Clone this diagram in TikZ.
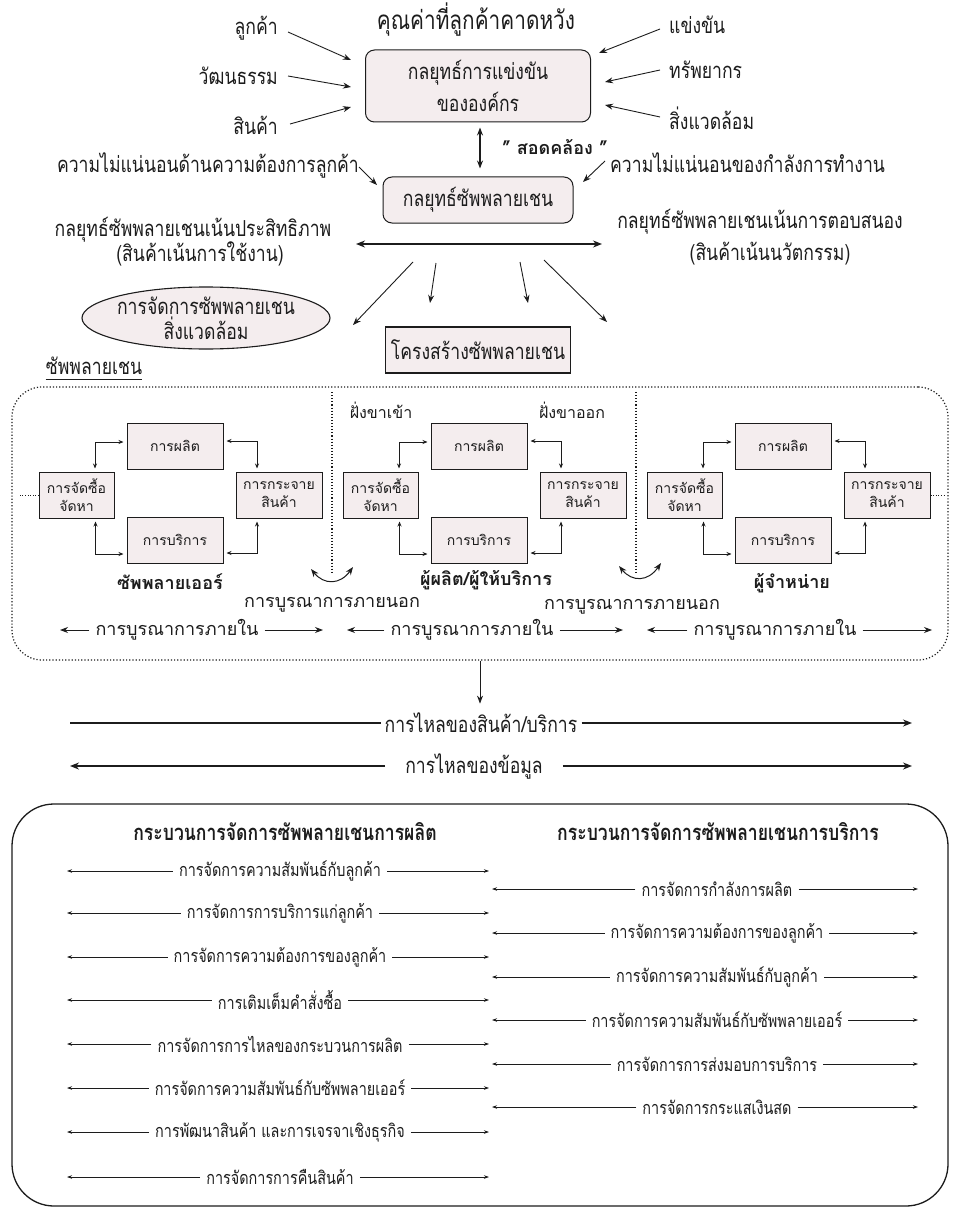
\documentclass[tikz,border=0pt]{standalone}
\usepackage{fontspec}
\setmainfont[Script=Thai]{Loma}
\newfontfamily\condf[Script=Thai,FakeStretch=0.8]{Loma}
\usetikzlibrary{arrows.meta,calc,shapes.geometric}
\definecolor{boxfill}{RGB}{244,237,238}
\definecolor{inkc}{RGB}{28,28,28}
\newcommand\fsTitle{\condf\fontsize{26}{30}\selectfont}
\newcommand\fsLabel{\condf\fontsize{22}{26}\selectfont}
\newcommand\fsLoop{\fontsize{18}{22}\selectfont}
\newcommand\fsSmall{\fontsize{14}{18}\selectfont}
\newcommand\fsList{\condf\fontsize{18}{21}\selectfont}
\begin{document}
\begin{tikzpicture}[x=1pt,y=-1pt,
  every node/.style={inner sep=0pt, text=inkc},
  lbl/.style={font=\fsLabel},
  loop/.style={font=\fsLoop},
  bld/.style={font=\fsLoop\bfseries},
  hdr/.style={font=\condf\fontsize{22}{26}\selectfont\bfseries},
  arr/.style={draw=inkc, line width=0.9pt, -{Stealth[length=8pt,width=6pt]}},
  darr/.style={draw=inkc, line width=0.9pt, {Stealth[length=8pt,width=6pt]}-{Stealth[length=8pt,width=6pt]}},
  thick arr/.style={draw=inkc, line width=1.8pt, {Stealth[length=9pt,width=7pt]}-{Stealth[length=9pt,width=7pt]}},
  sarr/.style={draw=inkc, line width=0.8pt, {Stealth[length=5pt,width=4pt]}-{Stealth[length=5pt,width=4pt]}},
  rbox/.style={draw=inkc, line width=1pt, rounded corners=9pt, fill=boxfill},
  cbox/.style={draw=inkc, line width=1pt, fill=boxfill, align=center, font=\fsSmall},
  flowline/.style={draw=inkc, line width=1.6pt},
  flowarr/.style={draw=inkc, line width=1.6pt, -{Stealth[length=9pt,width=7pt]}},
  lst/.style={font=\fsList, inner xsep=6pt},
  larr/.style={draw=inkc, line width=0.7pt, -{Stealth[length=5pt,width=3.5pt]}},
  divider/.style={draw=inkc, dotted, line width=1.1pt}
]
\useasboundingbox (0,0) rectangle (953,1209);

% ---------- competitive strategy ----------
\node[font=\fsTitle] (title) at (476,20) {คุณค่าที่ลูกค้าคาดหวัง};
\node[rbox, minimum width=225pt, minimum height=72pt] (cs) at (478,86) {};
\node[lbl, align=center] (cst) at (cs.center) {กลยุทธ์การแข่งขัน\\[6pt]ขององค์กร};

\node[lbl, anchor=east] (f1) at (278,28) {ลูกค้า};
\node[lbl, anchor=east] (f2) at (278,76) {วัฒนธรรม};
\node[lbl, anchor=east] (f3) at (278,125) {สินค้า};
\node[lbl, anchor=west] (g1) at (669,25) {แข่งขัน};
\node[lbl, anchor=west] (g2) at (669,70) {ทรัพยากร};
\node[lbl, anchor=west] (g3) at (669,118) {สิ่งแวดล้อม};

\coordinate (f1t) at (351,60);
\coordinate (f2t) at (351,87);
\coordinate (f3t) at (351,107);
\coordinate (g1t) at (599,53);
\coordinate (g2t) at (605,82);
\coordinate (g3t) at (605,105);
\draw[arr] ([xshift=10pt,yshift=-4pt]f1.east) -- (f1t);
\draw[arr] ([xshift=10pt]f2.east) -- (f2t);
\draw[arr] ([xshift=12pt,yshift=1pt]f3.east) -- (f3t);
\draw[arr] ([xshift=-9pt,yshift=-4pt]g1.west) -- (g1t);
\draw[arr] ([xshift=-9pt]g2.west) -- (g2t);
\draw[arr] ([xshift=-9pt,yshift=1pt]g3.west) -- (g3t);

% ---------- supply chain strategy ----------
\node[rbox, minimum width=190pt, minimum height=46pt, font=\fsLabel] (scs) at (478,200) {กลยุทธ์ซัพพลายเชน};
\draw[darr, line width=1.2pt, shorten <=5pt, shorten >=8pt] (cs.south -| 480,0) -- (scs.north -| 480,0);
\node[bld] (fit) at (555,147) {" สอดคล้อง "};

\node[lbl, anchor=east] (u1) at (359,165) {ความไม่แน่นอนด้านความต้องการลูกค้า};
\node[lbl, anchor=west] (u2) at (610,163) {ความไม่แน่นอนของกำลังการทำงาน};
\coordinate (u1t) at (377,185);
\coordinate (u2t) at (583,182);
\draw[arr] ([yshift=-2pt]u1.east) -- (u1t);
\draw[arr] ([xshift=-5pt,yshift=2pt]u2.west) -- (u2t);

\node[lbl] (eff) at (193,230) {กลยุทธ์ซัพพลายเชนเน้นประสิทธิภาพ};
\node[lbl] (effp) at (200,254) {(สินค้าเน้นการใช้งาน)};
\node[lbl] (rsp) at (760,222) {กลยุทธ์ซัพพลายเชนเน้นการตอบสนอง};
\node[lbl] (rspp) at (770,254) {(สินค้าเน้นนวัตกรรม)};
\coordinate (sp0) at (356,244);
\coordinate (sp1) at (602,244);
\draw[thick arr] (sp0) -- (sp1);

\node[draw=inkc, line width=1.1pt, ellipse, fill=boxfill, minimum width=248pt, minimum height=62pt] (env) at (206,318) {};
\node[lbl, align=center] (envt) at (env.center) {การจัดการซัพพลายเชน\\[-1pt]สิ่งแวดล้อม};
\node[draw=inkc, line width=1.4pt, fill=boxfill, minimum width=185pt, minimum height=46pt, font=\fsLabel] (str) at (478,350) {โครงสร้างซัพพลายเชน};

\coordinate (b1s) at (413,262); \coordinate (b1e) at (353,325);
\coordinate (b2s) at (436,263); \coordinate (b2e) at (430,303);
\coordinate (b3s) at (520,262); \coordinate (b3e) at (528,303);
\coordinate (b4s) at (544,260); \coordinate (b4e) at (607,322);
\draw[arr] (b1s) -- (b1e);
\draw[arr] (b2s) -- (b2e);
\draw[arr] (b3s) -- (b3e);
\draw[arr] (b4s) -- (b4e);

% ---------- supply chain ----------
\node[lbl] (scl) at (94,366) {ซัพพลายเชน};
\draw[inkc, line width=1pt] ([yshift=-4pt]scl.south west) -- ([yshift=-4pt]scl.south east);

\node[draw=inkc, dotted, line width=1.2pt, rounded corners=30pt, minimum width=936pt, minimum height=273pt] (sc) at (480,523.5) {};
\draw[divider] (332,392) -- (332,572);
\draw[divider] (636,392) -- (636,572);

\foreach \L/\i in {39/1,343/2,647/3}{
  \node[cbox, minimum width=75pt, minimum height=46pt] (p\i) at (\L+37.5,495) {การจัดซื้อ\\จัดหา};
  \node[cbox, minimum width=96pt, minimum height=46pt] (m\i) at (\L+136,446) {การผลิต};
  \node[cbox, minimum width=96pt, minimum height=46pt] (s\i) at (\L+136,540) {การบริการ};
  \node[cbox, minimum width=86pt, minimum height=46pt] (d\i) at (\L+240,495) {การกระจาย\\สินค้า};
  \draw[sarr] ([xshift=18.5pt,yshift=3pt]p\i.north) |- ([xshift=-3pt,yshift=4pt]m\i.west);
  \draw[sarr] ([xshift=3pt,yshift=5pt]m\i.east) -| ([xshift=-22pt,yshift=3pt]d\i.north);
  \draw[sarr] ([xshift=19pt,yshift=-3pt]p\i.south) |- ([xshift=-3pt,yshift=-14pt]s\i.west);
  \draw[sarr] ([xshift=3pt,yshift=-13pt]s\i.east) -| ([xshift=-22pt,yshift=-3pt]d\i.south);
}
\draw[inkc, dotted, line width=0.6pt] (p1.west) -- ++(-19,0);
\draw[inkc, dotted, line width=0.6pt] (d3.east) -- ++(15,0);

\node[font=\fontsize{16}{20}\selectfont] (inb) at (381,410) {ฝั่งขาเข้า};
\node[font=\fontsize{16}{20}\selectfont] (outb) at (572,410) {ฝั่งขาออก};

\node[bld] (sup) at (170,582) {ซัพพลายเออร์};
\node[bld] (man) at (486,580) {ผู้ผลิต/ผู้ให้บริการ};
\node[bld] (dis) at (792,583) {ผู้จำหน่าย};

\coordinate (c1a) at (311,569); \coordinate (c1b) at (353,567);
\coordinate (c2a) at (619,566); \coordinate (c2b) at (661,563);
\draw[darr, line width=1pt] (c1a) .. controls (324,585) and (340,585) .. (c1b);
\draw[darr, line width=1pt] (c2a) .. controls (632,582) and (648,582) .. (c2b);
\node[loop] (ext1) at (332,605) {การบูรณาการภายนอก};
\node[loop] (ext2) at (632,607) {การบูรณาการภายนอก};

\foreach \c/\a/\b/\i in {177/60/323/1,472/347/623/2,775/647/932/3}{
  \node[loop, inner xsep=6pt] (int\i) at (\c,630) {การบูรณาการภายใน};
  \coordinate (ia\i) at (\a,630);
  \coordinate (ib\i) at (\b,630);
  \draw[arr] (int\i.west) -- (ia\i);
  \draw[arr] (int\i.east) -- (ib\i);
}

% ---------- flows ----------
\draw[arr] (sc.south) -- ++(0,43);
\coordinate (fx0) at (70,0);
\coordinate (fx1) at (912,0);
\node[lbl, inner xsep=4pt] (pflow) at (481,723) {การไหลของสินค้า/บริการ};
\draw[flowline] (pflow.west) -- (pflow.west -| fx0);
\draw[flowarr] (pflow.east) -- (pflow.east -| fx1);
\node[lbl, inner xsep=20pt] (iflow) at (474,766) {การไหลของข้อมูล};
\draw[flowarr] (iflow.west) -- (iflow.west -| fx0);
\draw[flowarr] (iflow.east) -- (iflow.east -| fx1);

% ---------- management processes ----------
\node[draw=inkc, line width=1.3pt, rounded corners=42pt, minimum width=936pt, minimum height=402pt] (pm) at (480,1005) {};
\node[hdr] (hl) at (285,832) {กระบวนการจัดการซัพพลายเชนการผลิต};
\node[hdr] (hr) at (718,832) {กระบวนการจัดการซัพพลายเชนการบริการ};

\coordinate (lx0) at (67,0);
\coordinate (lx1) at (489,0);
\coordinate (rx0) at (492,0);
\coordinate (rx1) at (918,0);
\foreach \y/\t [count=\k] in {871/{การจัดการความสัมพันธ์กับลูกค้า},913/{การจัดการการบริการแก่ลูกค้า},957/{การจัดการความต้องการของลูกค้า},1000/{การเติมเต็มคำสั่งซื้อ},1044/{การจัดการการไหลของกระบวนการผลิต},1088/{การจัดการความสัมพันธ์กับซัพพลายเออร์},1132/{การพัฒนาสินค้า และการเจรจาเชิงธุรกิจ},1177/{การจัดการการคืนสินค้า}}{
  \node[lst] (la\k) at (280,\y) {\t};
  \draw[larr] (la\k.west) -- (la\k.west -| lx0);
  \draw[larr] (la\k.east) -- (la\k.east -| lx1);
}
\foreach \y/\t [count=\k] in {889/{การจัดการกำลังการผลิต},933/{การจัดการความต้องการของลูกค้า},977/{การจัดการความสัมพันธ์กับลูกค้า},1020/{การจัดการความสัมพันธ์กับซัพพลายเออร์},1064/{การจัดการการส่งมอบการบริการ},1107/{การจัดการกระแสเงินสด}}{
  \node[lst] (ra\k) at (717,\y) {\t};
  \draw[larr] (ra\k.west) -- (ra\k.west -| rx0);
  \draw[larr] (ra\k.east) -- (ra\k.east -| rx1);
}
\end{tikzpicture}
\end{document}
